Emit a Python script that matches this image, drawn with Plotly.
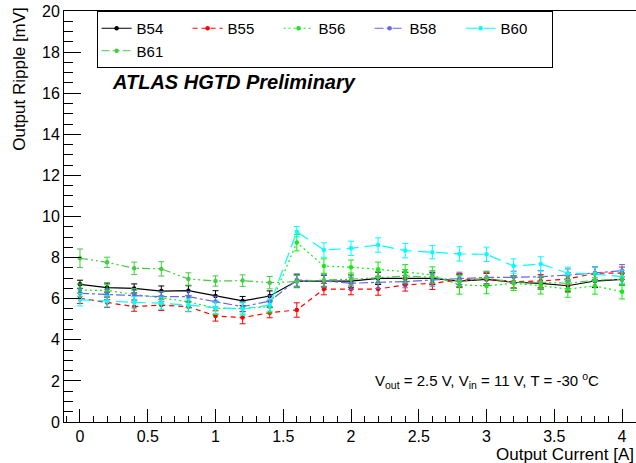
import plotly.graph_objects as go

current = [0.0, 0.2, 0.4, 0.6, 0.8, 1.0, 1.2, 1.4, 1.6, 1.8, 2.0,
           2.2, 2.4, 2.6, 2.8, 3.0, 3.2, 3.4, 3.6, 3.8, 4.0]

b54 = [6.70, 6.54, 6.50, 6.37, 6.39, 6.13, 5.89, 6.13, 6.86, 6.86, 6.86,
       6.99, 6.99, 6.99, 6.86, 6.94, 6.80, 6.75, 6.63, 6.86, 6.94]
b55 = [6.02, 5.82, 5.61, 5.69, 5.61, 5.16, 5.08, 5.32, 5.45, 6.47, 6.47,
       6.47, 6.67, 6.75, 6.91, 6.96, 6.83, 6.86, 6.96, 7.24, 7.24]
b56 = [6.42, 6.40, 6.21, 6.02, 5.86, 5.53, 5.53, 5.61, 8.73, 7.59, 7.53,
       7.43, 7.31, 7.15, 6.67, 6.62, 6.75, 6.63, 6.47, 6.62, 6.34]
b58 = [6.26, 6.21, 6.18, 6.10, 6.10, 5.86, 5.61, 5.88, 6.91, 6.86, 6.75,
       6.80, 6.83, 6.91, 6.99, 7.04, 7.04, 7.07, 7.15, 7.24, 7.36]
b60 = [5.95, 5.88, 5.82, 5.78, 5.69, 5.56, 5.50, 5.69, 9.26, 8.37, 8.45,
       8.61, 8.34, 8.26, 8.18, 8.16, 7.59, 7.69, 7.24, 7.20, 7.07]
b61 = [7.97, 7.77, 7.48, 7.45, 6.96, 6.86, 6.88, 6.78, 6.83, 6.91, 6.95,
       7.04, 7.10, 7.05, 6.86, 7.00, 6.80, 6.80, 6.75, 6.90, 6.95]

err54 = [0.20, 0.22, 0.22, 0.25, 0.24, 0.26, 0.22, 0.25, 0.30, 0.28, 0.30,
         0.30, 0.28, 0.30, 0.32, 0.30, 0.30, 0.28, 0.30, 0.32, 0.30]
err55 = [0.25, 0.25, 0.22, 0.26, 0.24, 0.25, 0.30, 0.25, 0.35, 0.28, 0.28,
         0.30, 0.30, 0.30, 0.32, 0.30, 0.30, 0.32, 0.30, 0.32, 0.30]
err56 = [0.30, 0.30, 0.28, 0.30, 0.30, 0.30, 0.28, 0.30, 0.40, 0.35, 0.35,
         0.35, 0.35, 0.40, 0.45, 0.38, 0.35, 0.40, 0.40, 0.40, 0.35]
err58 = [0.25, 0.25, 0.24, 0.25, 0.26, 0.26, 0.25, 0.26, 0.30, 0.30, 0.30,
         0.30, 0.30, 0.30, 0.30, 0.30, 0.30, 0.30, 0.30, 0.30, 0.30]
err60 = [0.30, 0.28, 0.28, 0.30, 0.30, 0.28, 0.30, 0.30, 0.25, 0.35, 0.35,
         0.35, 0.35, 0.32, 0.35, 0.35, 0.35, 0.35, 0.30, 0.35, 0.32]
err61 = [0.45, 0.25, 0.30, 0.35, 0.30, 0.25, 0.28, 0.30, 0.30, 0.30, 0.30,
         0.30, 0.32, 0.32, 0.30, 0.32, 0.30, 0.30, 0.35, 0.30, 0.30]

names = ["B54", "B55", "B56", "B58", "B60", "B61"]
series = [b54, b55, b56, b58, b60, b61]
errors = [err54, err55, err56, err58, err60, err61]
colors = ["#000000", "#ff0000", "#11ee11", "#6666ee", "#00ffff", "#44cc44"]
dashes = ["solid", "5px,4px", "2px,3px", "9px,3px,3px,3px", "12px,6px",
          "8px,3px,2px,3px,2px,3px"]
# legend columns: B61 wraps under B54
legend_groups = ["c1", "c2", "c3", "c4", "c5", "c1"]

x_ticks = [0, 0.5, 1, 1.5, 2, 2.5, 3, 3.5, 4]
x_tick_labels = ["0", "0.5", "1", "1.5", "2", "2.5", "3", "3.5", "4"]
y_ticks = [0, 2, 4, 6, 8, 10, 12, 14, 16, 18, 20]

FONT = "Liberation Sans, Arial, sans-serif"

fig = go.Figure()
for name, ys, es, c, d, g in zip(names, series, errors, colors, dashes, legend_groups):
    fig.add_trace(go.Scatter(
        x=current, y=ys, name=name, mode="lines+markers", legendgroup=g,
        line=dict(color=c, width=1.2, dash=d),
        marker=dict(color=c, size=4.5, symbol="circle"),
        error_y=dict(type="data", array=es, visible=True, color=c,
                     thickness=1, width=3),
    ))

fig.update_layout(
    width=636, height=463,
    margin=dict(l=64, r=0, t=11, b=41, autoexpand=False),
    paper_bgcolor="white", plot_bgcolor="white",
    font=dict(family=FONT, size=16, color="black"),
    showlegend=True,
    legend=dict(
        orientation="h", x=0.057, y=1.0, xanchor="left", yanchor="top",
        bgcolor="white", bordercolor="black", borderwidth=1,
        font=dict(family=FONT, size=15, color="black"),
        entrywidth=46, entrywidthmode="pixels", itemwidth=30,
        traceorder="grouped", tracegroupgap=0,
    ),
    xaxis=dict(
        range=[-0.118, 4.103], showgrid=False, zeroline=False, automargin=False,
        showline=True, linecolor="black", linewidth=1, mirror=True,
        ticks="inside", ticklen=13, tickcolor="black", tickwidth=1,
        tickvals=x_ticks, ticktext=x_tick_labels,
        minor=dict(ticks="inside", ticklen=6, dtick=0.1, tick0=0,
                   tickcolor="black", tickwidth=1, showgrid=False),
        tickfont=dict(family=FONT, size=16, color="black"),
    ),
    yaxis=dict(
        range=[0, 20], showgrid=False, zeroline=False, automargin=False,
        showline=True, linecolor="black", linewidth=1, mirror=True,
        ticks="inside", ticklen=17, tickcolor="black", tickwidth=1,
        tickvals=y_ticks,
        minor=dict(ticks="inside", ticklen=9, dtick=0.5, tick0=0,
                   tickcolor="black", tickwidth=1, showgrid=False),
        tickfont=dict(family=FONT, size=16, color="black"),
    ),
)

fig.add_annotation(
    text="Output Ripple [mV]", textangle=-90, showarrow=False,
    xref="paper", yref="paper", x=-0.077, y=1.015,
    xanchor="center", yanchor="top",
    font=dict(family=FONT, size=17, color="black"),
)
fig.add_annotation(
    text="Output Current [A]", showarrow=False,
    xref="paper", yref="paper", x=1.0, y=-0.078,
    xanchor="right", yanchor="middle",
    font=dict(family=FONT, size=17, color="black"),
)
fig.add_annotation(
    text="<b><i>ATLAS HGTD Preliminary</i></b>", showarrow=False,
    xref="paper", yref="paper", x=0.08, y=0.827,
    xanchor="left", yanchor="middle",
    font=dict(family=FONT, size=20, color="black"),
)
fig.add_annotation(
    text="V<sub>out</sub> = 2.5 V, V<sub>in</sub> = 11 V, T = -30 <sup>o</sup>C",
    showarrow=False, xref="x", yref="y", x=3.0, y=2.0,
    xanchor="center", yanchor="middle",
    font=dict(family=FONT, size=15, color="black"),
)

fig.write_html(
    "out.html",
    config={"displayModeBar": False, "displaylogo": False},
    post_script="document.body.style.margin='0';document.body.style.overflow='hidden';",
)
